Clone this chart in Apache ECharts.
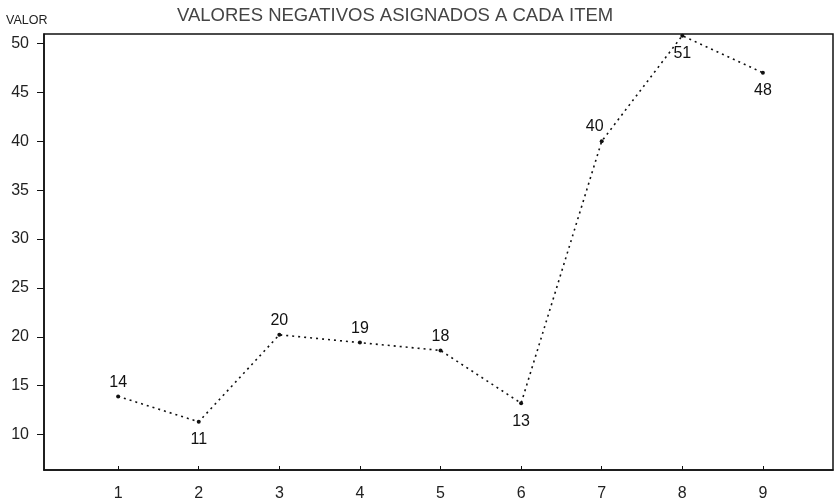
<!DOCTYPE html>
<html>
<head>
<meta charset="utf-8">
<script src="https://cdn.jsdelivr.net/npm/echarts@6/dist/echarts.min.js"></script>
<style>
  html, body { margin: 0; padding: 0; background: #fff; }
  #chart { width: 834px; height: 502px; }
</style>
</head>
<body>
<div id="chart"></div>
<script>
// ---- data ----
const items = [1, 2, 3, 4, 5, 6, 7, 8, 9];
const values = [13.9, 11.3, 20.2, 19.4, 18.6, 13.2, 40.0, 50.8, 47.0];
const pointLabels = ['14', '11', '20', '19', '18', '13', '40', '51', '48'];
const yTicks = [10, 15, 20, 25, 30, 35, 40, 45, 50];
const xTicks = [1, 2, 3, 4, 5, 6, 7, 8, 9];
const titleText = 'VALORES NEGATIVOS ASIGNADOS A CADA ITEM';
const yName = 'VALOR';

// label placement (style, not data)
const labelPlace = ['top', 'bottom', 'top', 'top', 'top', 'bottom', 'topLeft', 'bottom', 'bottom'];

const FONT = "'Liberation Sans', Arial, sans-serif";
const INK = '#111';

const seriesData = items.map((x, i) => {
  const p = labelPlace[i];
  const lab = { show: true, formatter: pointLabels[i] };
  if (p === 'topLeft') { lab.position = 'top'; lab.offset = [-7, 0]; }
  else { lab.position = p; lab.distance = p === 'bottom' ? 8 : 4; }
  return { value: [x, values[i]], label: lab };
});

const chart = echarts.init(document.getElementById('chart'), null, { renderer: 'canvas' });
chart.setOption({
  animation: false,
  backgroundColor: '#fff',
  title: [
    { text: titleText, left: 172, top: 1,
      textStyle: { fontFamily: FONT, fontSize: 18.5, fontWeight: 'normal', color: '#444' } },
    { text: yName, left: 1, top: 9,
      textStyle: { fontFamily: FONT, fontSize: 12.5, fontWeight: 'normal', color: '#222' } }
  ],
  grid: { left: 44, right: 1, top: 34, bottom: 32, show: true,
          borderColor: INK, borderWidth: 1.5, backgroundColor: 'transparent' },
  xAxis: {
    type: 'value', min: 0.08, max: 9.87,
    axisLine: { show: true, onZero: false, lineStyle: { color: INK, width: 1.5 } },
    axisTick: { show: true, inside: true, length: 4, customValues: xTicks,
                lineStyle: { color: INK, width: 1 } },
    axisLabel: { customValues: xTicks, margin: 16, color: '#222',
                 fontFamily: FONT, fontSize: 16 },
    splitLine: { show: false }
  },
  yAxis: {
    type: 'value', min: 6.37, max: 50.97,
    axisLine: { show: true, onZero: false, lineStyle: { color: INK, width: 1.5 } },
    axisTick: { show: true, inside: false, length: 7, customValues: yTicks,
                lineStyle: { color: INK, width: 1 } },
    axisLabel: { customValues: yTicks, margin: 15, color: '#222',
                 fontFamily: FONT, fontSize: 16 },
    splitLine: { show: false }
  },
  series: [{
    type: 'line',
    data: seriesData,
    symbol: 'circle',
    symbolSize: 4,
    itemStyle: { color: INK },
    lineStyle: { color: INK, width: 1.6, type: [2, 4] },
    label: { color: INK, fontFamily: FONT, fontSize: 16 }
  }]
});
</script>
</body>
</html>
